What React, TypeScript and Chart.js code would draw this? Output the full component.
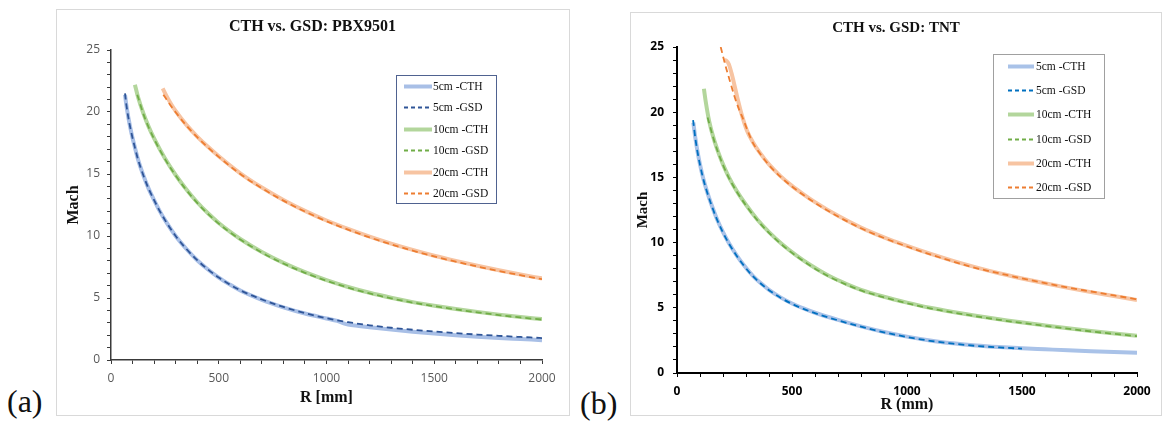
import React, { useEffect, useRef } from 'react';
import { Chart, registerables } from 'chart.js';

Chart.register(...registerables);

// ---------- Data: panel (a) PBX9501 ----------
const A_R_5CTH = [65, 70, 80, 90, 100, 110, 125, 150, 175, 200, 225, 250, 300, 350, 400, 450, 500, 550, 600, 700, 800, 900, 1000, 1050, 1080, 1100, 1150, 1200, 1300, 1400, 1500, 1600, 1700, 1800, 1900, 2000];
const A_M_5CTH = [21.4, 20.7, 19.6, 18.7, 17.9, 17.2, 16.2, 14.9, 13.8, 12.9, 12.05, 11.3, 10.0, 8.95, 8.05, 7.3, 6.65, 6.1, 5.6, 4.85, 4.25, 3.75, 3.35, 3.15, 2.95, 2.85, 2.75, 2.65, 2.45, 2.28, 2.13, 2.0, 1.88, 1.78, 1.69, 1.6];
const A_R_5GSD = [65, 70, 80, 90, 100, 110, 125, 150, 175, 200, 225, 250, 300, 350, 400, 450, 500, 550, 600, 700, 800, 900, 1000, 1100, 1200, 1300, 1400, 1500, 1600, 1700, 1800, 1900, 2000];
const A_M_5GSD = [21.5, 20.75, 19.6, 18.7, 17.9, 17.2, 16.2, 14.9, 13.8, 12.9, 12.05, 11.3, 10.0, 8.95, 8.05, 7.3, 6.65, 6.1, 5.62, 4.88, 4.28, 3.78, 3.37, 3.05, 2.8, 2.6, 2.44, 2.3, 2.17, 2.05, 1.95, 1.86, 1.77];
const A_R_10CTH = [111, 125, 150, 175, 200, 250, 300, 350, 400, 450, 500, 550, 600, 700, 800, 900, 1000, 1100, 1200, 1300, 1400, 1500, 1600, 1700, 1800, 1900, 2000];
const A_M_10CTH = [22.2, 21.23, 19.9, 18.8, 17.87, 16.27, 14.92, 13.75, 12.72, 11.83, 11.05, 10.37, 9.76, 8.71, 7.83, 7.08, 6.44, 5.89, 5.42, 5.02, 4.67, 4.38, 4.12, 3.88, 3.66, 3.47, 3.3];
const A_R_10GSD = [122, 150, 175, 200, 250, 300, 350, 400, 450, 500, 550, 600, 700, 800, 900, 1000, 1100, 1200, 1300, 1400, 1500, 1600, 1700, 1800, 1900, 2000];
const A_M_10GSD = [21.4, 19.85, 18.75, 17.82, 16.22, 14.87, 13.7, 12.67, 11.78, 11.0, 10.32, 9.71, 8.66, 7.78, 7.03, 6.39, 5.84, 5.37, 4.97, 4.63, 4.34, 4.08, 3.84, 3.62, 3.43, 3.26];
const A_R_20CTH = [240, 260, 280, 300, 350, 400, 450, 500, 600, 700, 800, 900, 1000, 1100, 1200, 1300, 1400, 1500, 1600, 1700, 1800, 1900, 2000];
const A_M_20CTH = [21.9, 21.22, 20.61, 20.08, 18.96, 18.02, 17.19, 16.43, 15.06, 13.91, 12.91, 12.03, 11.25, 10.57, 9.95, 9.39, 8.88, 8.41, 7.99, 7.6, 7.24, 6.9, 6.58];
const A_R_20GSD = [243, 260, 280, 300, 350, 400, 450, 500, 600, 700, 800, 900, 1000, 1100, 1200, 1300, 1400, 1500, 1600, 1700, 1800, 1900, 2000];
const A_M_20GSD = [21.4, 20.95, 20.45, 19.98, 18.9, 17.97, 17.14, 16.38, 15.0, 13.85, 12.85, 11.97, 11.19, 10.51, 9.89, 9.33, 8.82, 8.35, 7.93, 7.54, 7.18, 6.84, 6.52];

// ---------- Data: panel (b) TNT ----------
const B_R_5CTH = [71, 80, 90, 100, 113, 130, 150, 175, 200, 226, 260, 290, 330, 370, 400, 450, 500, 550, 600, 700, 800, 900, 1000, 1100, 1200, 1300, 1400, 1500, 1600, 1700, 1800, 1900, 2000];
const B_M_5CTH = [19.2, 18.0, 16.9, 16.0, 15.0, 13.95, 12.9, 11.75, 10.8, 9.95, 9.0, 8.28, 7.45, 6.8, 6.38, 5.8, 5.33, 4.95, 4.62, 4.07, 3.58, 3.15, 2.79, 2.5, 2.28, 2.11, 1.99, 1.9, 1.82, 1.74, 1.67, 1.61, 1.56];
const B_R_5GSD = [70, 80, 90, 100, 113, 130, 150, 175, 200, 226, 260, 290, 330, 370, 400, 450, 500, 550, 600, 700, 800, 900, 1000, 1100, 1200, 1300, 1400, 1500];
const B_M_5GSD = [19.4, 17.97, 16.87, 15.97, 14.97, 13.92, 12.87, 11.72, 10.77, 9.92, 8.97, 8.25, 7.42, 6.77, 6.35, 5.77, 5.3, 4.92, 4.59, 4.04, 3.55, 3.12, 2.76, 2.47, 2.25, 2.08, 1.96, 1.87];
const B_R_10CTH = [117, 125, 140, 160, 180, 200, 226, 260, 300, 350, 400, 452, 520, 580, 660, 740, 800, 900, 1000, 1100, 1200, 1400, 1600, 1800, 2000];
const B_M_10CTH = [21.8, 20.8, 19.3, 17.95, 16.9, 16.0, 15.0, 13.95, 12.9, 11.75, 10.8, 9.95, 9.0, 8.28, 7.45, 6.8, 6.38, 5.85, 5.4, 5.0, 4.68, 4.12, 3.65, 3.22, 2.85];
const B_R_10GSD = [133, 140, 160, 180, 200, 226, 260, 300, 350, 400, 452, 520, 580, 660, 740, 800, 900, 1000, 1100, 1200, 1400, 1600, 1800, 2000];
const B_M_10GSD = [19.6, 19.15, 17.9, 16.85, 15.95, 14.95, 13.9, 12.85, 11.7, 10.75, 9.9, 8.95, 8.23, 7.4, 6.75, 6.33, 5.8, 5.35, 4.96, 4.64, 4.08, 3.61, 3.19, 2.82];
const B_R_20CTH = [205, 215, 225, 240, 260, 280, 304, 330, 360, 400, 450, 500, 550, 600, 700, 800, 900, 1000, 1100, 1200, 1300, 1400, 1500, 1600, 1700, 1800, 1900, 2000];
const B_M_20CTH = [24.0, 23.95, 23.7, 22.8, 21.3, 19.9, 18.6, 17.7, 16.9, 16.0, 15.1, 14.35, 13.7, 13.1, 12.05, 11.15, 10.4, 9.75, 9.15, 8.6, 8.1, 7.65, 7.25, 6.88, 6.53, 6.2, 5.9, 5.6];
const B_R_20GSD = [190, 200, 215, 230, 250, 270, 287, 310, 330, 360, 400, 450, 500, 550, 600, 700, 800, 900, 1000, 1100, 1200, 1300, 1400, 1500, 1600, 1700, 1800, 1900, 2000];
const B_M_20GSD = [25.0, 24.3, 23.3, 22.4, 21.2, 20.2, 19.5, 18.45, 17.65, 16.85, 15.95, 15.05, 14.3, 13.65, 13.05, 12.0, 11.1, 10.35, 9.7, 9.1, 8.55, 8.05, 7.65, 7.25, 6.9, 6.55, 6.25, 5.95, 5.65];

// ---------- Labels ----------
const SERIES_LABELS = ['5cm -CTH', '5cm -GSD', '10cm -CTH', '10cm -GSD', '20cm -CTH', '20cm -GSD'];
const X_TICK_LABELS = ['0', '500', '1000', '1500', '2000'];
const Y_TICK_LABELS = ['0', '5', '10', '15', '20', '25'];
const TITLE_A = 'CTH vs. GSD: PBX9501';
const TITLE_B = 'CTH vs. GSD: TNT';
const X_TITLE_A = 'R [mm]';
const X_TITLE_B = 'R (mm)';
const Y_TITLE = 'Mach';

const SERIF = '"Liberation Serif", "Times New Roman", serif';
const SANS = '"Open Sans", "Noto Sans", sans-serif';

const pts = (r: number[], m: number[]) => r.map((x, i) => ({ x, y: m[i] }));

const boxLegend = {
  id: 'boxLegend',
  afterDraw(chart: any, _args: any, o: any) {
    const ctx = chart.ctx;
    ctx.save();
    ctx.strokeStyle = o.borderColor;
    ctx.lineWidth = 1;
    ctx.setLineDash([]);
    ctx.strokeRect(o.x + 0.5, o.y + 0.5, o.w, o.h);
    chart.data.datasets.forEach((ds: any, i: number) => {
      const dashed = ds.borderDash && ds.borderDash.length > 0;
      const y = Math.round(o.rowY + i * o.rowGap) + 0.5;
      ctx.beginPath();
      ctx.setLineDash(dashed ? [4, 3] : []);
      ctx.strokeStyle = ds.borderColor;
      ctx.lineWidth = dashed ? 1.8 : 4;
      ctx.moveTo(o.lineX0, y);
      ctx.lineTo(o.lineX1, y);
      ctx.stroke();
      ctx.setLineDash([]);
      ctx.fillStyle = '#111';
      ctx.font = o.font;
      ctx.textAlign = 'left';
      ctx.textBaseline = 'middle';
      ctx.fillText(ds.label, o.textX, y);
    });
    ctx.restore();
  },
};

type Spec = {
  title: string;
  xTitle: string;
  series: { x: number; y: number }[][];
  colors: string[];
  W: number;
  H: number;
  area: { left: number; top: number; right: number; bottom: number };
  titleSize: number;
  titlePad: { top: number; bottom: number };
  yTitleSize: number;
  yTitlePad: number;
  xTitleSize: number;
  xTitlePad: number;
  tickWeight: string;
  tickColor: string;
  axisColor: string;
  axisWidth: number;
  yTickPad: number;
  xTickPad: number;
  legend: any;
};

function buildConfig(s: Spec): any {
  const datasets = s.series.map((data, i) => {
    const isGSD = i % 2 === 1;
    return {
      label: SERIES_LABELS[i],
      data,
      borderColor: s.colors[i],
      backgroundColor: s.colors[i],
      borderWidth: isGSD ? 1.8 : 4,
      borderDash: isGSD ? [6, 4] : [],
      pointRadius: 0,
      fill: false,
      cubicInterpolationMode: 'monotone',
      tension: 0.4,
      order: isGSD ? 0 : 1,
    };
  });
  const tickFont = { family: SANS, size: 12, weight: s.tickWeight };
  return {
    type: 'line',
    data: { datasets },
    plugins: [boxLegend],
    options: {
      responsive: false,
      animation: false,
      devicePixelRatio: 1,
      layout: { padding: 0 },
      plugins: {
        legend: { display: false },
        tooltip: { enabled: false },
        title: {
          display: true,
          text: s.title,
          color: '#111',
          font: { family: SERIF, size: s.titleSize, weight: 'bold' },
          padding: s.titlePad,
        },
        boxLegend: s.legend,
      },
      scales: {
        x: {
          type: 'linear',
          position: 'bottom',
          min: 0,
          max: 2000,
          border: { display: true, color: s.axisColor, width: s.axisWidth },
          grid: { display: true, drawOnChartArea: false, drawTicks: true, tickLength: 4, color: s.axisColor, lineWidth: 1 },
          ticks: {
            stepSize: 100,
            autoSkip: false,
            maxTicksLimit: 100,
            maxRotation: 0,
            minRotation: 0,
            padding: s.xTickPad,
            color: s.tickColor,
            font: tickFont,
            callback: (v: any) => (X_TICK_LABELS.includes(String(v)) ? String(v) : ''),
          },
          title: {
            display: true,
            text: s.xTitle,
            color: '#111',
            font: { family: SERIF, size: s.xTitleSize, weight: 'bold' },
            padding: { top: 0, bottom: s.xTitlePad },
          },
          afterFit: (sc: any) => {
            sc.height = s.H - s.area.bottom;
            sc.paddingLeft = 0;
            sc.paddingRight = 0;
          },
        },
        y: {
          type: 'linear',
          position: 'left',
          min: 0,
          max: 25,
          border: { display: true, color: s.axisColor, width: s.axisWidth },
          grid: { display: true, drawOnChartArea: false, drawTicks: true, tickLength: 4, color: s.axisColor, lineWidth: 1 },
          ticks: {
            stepSize: 1,
            autoSkip: false,
            maxTicksLimit: 100,
            padding: s.yTickPad,
            color: s.tickColor,
            font: tickFont,
            callback: (v: any) => (Y_TICK_LABELS.includes(String(v)) ? String(v) : ''),
          },
          title: {
            display: true,
            text: Y_TITLE,
            color: '#111',
            font: { family: SERIF, size: s.yTitleSize, weight: 'bold' },
            padding: { top: s.yTitlePad, bottom: 0 },
          },
          afterFit: (sc: any) => {
            sc.width = s.area.left;
            sc.paddingTop = 0;
            sc.paddingBottom = 0;
          },
        },
        yr: {
          type: 'linear',
          position: 'right',
          display: true,
          grid: { display: false },
          border: { display: false },
          ticks: { display: false },
          title: { display: false },
          afterFit: (sc: any) => {
            sc.width = s.W - s.area.right;
            sc.paddingTop = 0;
            sc.paddingBottom = 0;
          },
        },
      },
    },
  };
}

const SPEC_A: Spec = {
  title: TITLE_A,
  xTitle: X_TITLE_A,
  series: [
    pts(A_R_5CTH, A_M_5CTH),
    pts(A_R_5GSD, A_M_5GSD),
    pts(A_R_10CTH, A_M_10CTH),
    pts(A_R_10GSD, A_M_10GSD),
    pts(A_R_20CTH, A_M_20CTH),
    pts(A_R_20GSD, A_M_20GSD),
  ],
  colors: ['#A8BFE6', '#2F5597', '#B3D69C', '#70AD47', '#F7C4A2', '#ED7D31'],
  W: 511,
  H: 404,
  area: { left: 54, top: 40, right: 485, bottom: 350 },
  titleSize: 16,
  titlePad: { top: 7.4, bottom: 13.4 },
  yTitleSize: 16,
  yTitlePad: 7.4,
  xTitleSize: 16,
  xTitlePad: 6.4,
  tickWeight: 'normal',
  tickColor: '#595959',
  axisColor: '#3a3a3a',
  axisWidth: 1.5,
  yTickPad: 7,
  xTickPad: 7,
  legend: {
    x: 339, y: 65, w: 100, h: 128,
    rowY: 76, rowGap: 21.4,
    lineX0: 347, lineX1: 375, textX: 376,
    font: '11.5px ' + SERIF,
    borderColor: '#4F6290',
  },
};

const SPEC_B: Spec = {
  title: TITLE_B,
  xTitle: X_TITLE_B,
  series: [
    pts(B_R_5CTH, B_M_5CTH),
    pts(B_R_5GSD, B_M_5GSD),
    pts(B_R_10CTH, B_M_10CTH),
    pts(B_R_10GSD, B_M_10GSD),
    pts(B_R_20CTH, B_M_20CTH),
    pts(B_R_20GSD, B_M_20GSD),
  ],
  colors: ['#A9C2E8', '#0070C0', '#B3D69C', '#70AD47', '#F7C4A2', '#ED7D31'],
  W: 530,
  H: 401,
  area: { left: 46, top: 34, right: 506, bottom: 360 },
  titleSize: 15,
  titlePad: { top: 6, bottom: 10 },
  yTitleSize: 15,
  yTitlePad: 3,
  xTitleSize: 16,
  xTitlePad: 0,
  tickWeight: 'bold',
  tickColor: '#000',
  axisColor: '#000',
  axisWidth: 2,
  yTickPad: 9,
  xTickPad: 7,
  legend: {
    x: 362, y: 41, w: 111, h: 144,
    rowY: 53, rowGap: 24.2,
    lineX0: 377, lineX1: 403, textX: 405,
    font: '11.5px ' + SERIF,
    borderColor: '#A0A0A0',
  },
};

function ChartPanel({ spec, left, top }: { spec: Spec; left: number; top: number }) {
  const ref = useRef<HTMLCanvasElement | null>(null);
  useEffect(() => {
    if (!ref.current) return;
    const chart = new Chart(ref.current, buildConfig(spec));
    return () => chart.destroy();
  }, [spec]);
  return (
    <canvas
      ref={ref}
      width={spec.W}
      height={spec.H}
      style={{ position: 'absolute', left, top, width: spec.W, height: spec.H, display: 'block' }}
    />
  );
}

const boxStyle = (left: number, top: number, width: number, height: number): React.CSSProperties => ({
  position: 'absolute',
  left,
  top,
  width,
  height,
  boxSizing: 'border-box',
  border: '1px solid #D9D9D9',
});

const tagStyle = (left: number, top: number): React.CSSProperties => ({
  position: 'absolute',
  left,
  top,
  fontFamily: SERIF,
  fontSize: 32,
  lineHeight: '32px',
  color: '#111',
  whiteSpace: 'nowrap',
});

export default function App() {
  return (
    <div style={{ position: 'absolute', left: 0, top: 0, width: 1162, height: 422, background: '#fff', overflow: 'hidden' }}>
      <div style={boxStyle(56, 9, 514, 407)} />
      <div style={boxStyle(630, 12, 532, 404)} />
      <ChartPanel spec={SPEC_A} left={57} top={10} />
      <ChartPanel spec={SPEC_B} left={631} top={13} />
      <div style={tagStyle(7, 385)}>(a)</div>
      <div style={tagStyle(580, 387)}>(b)</div>
    </div>
  );
}
